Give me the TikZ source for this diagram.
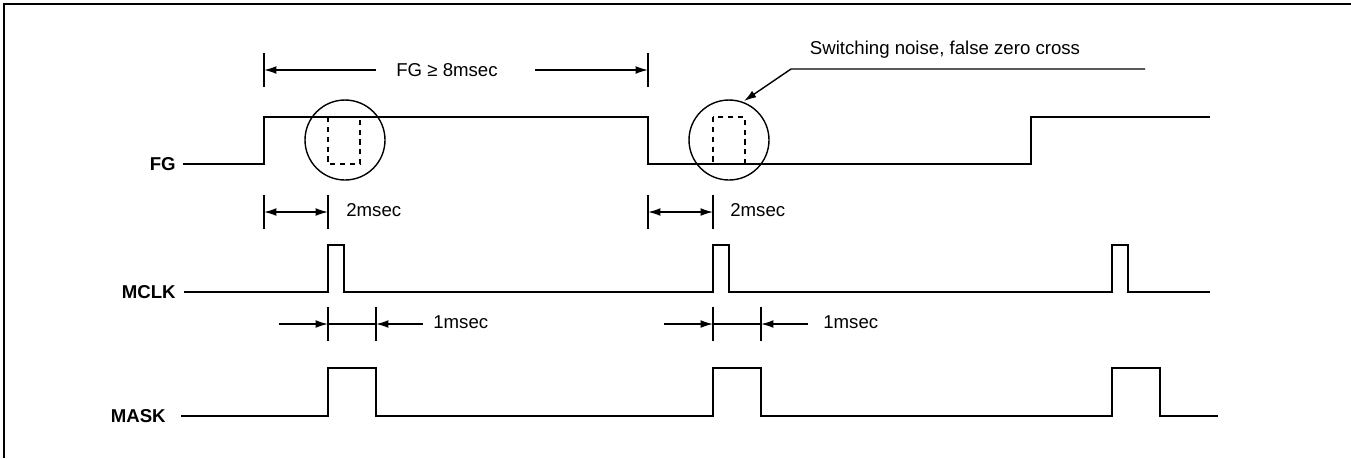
\documentclass[tikz,border=0pt]{standalone}
\usepackage{fontspec}
\setmainfont{Liberation Sans}
\usetikzlibrary{arrows.meta}
\begin{document}
\begin{tikzpicture}[x=0.02cm,y=-0.02cm]
\tikzstyle{every node}+=[inner sep=0pt]
\tikzstyle{signal}=[line width=1.1pt]
\tikzstyle{dimline}=[line width=0.8pt]
\tikzstyle{dimtip}=[-{Latex[length=7pt,width=4.4pt]}]
\tikzstyle{lbl}=[font=\fontsize{10.6}{12}\selectfont]
\tikzstyle{sig}=[font=\fontsize{10.6}{12}\selectfont\bfseries,anchor=east]
\useasboundingbox (0,0) rectangle (1351,458);
% frame
\draw [line width=1pt] (4,458) -- (4,4) -- (1351,4);
% signal names
\node [sig] (fg) at (176,164) {FG};
\node [sig] (mclk) at (176,292) {MCLK};
\node [sig] (mask) at (166,416) {MASK};
% FG
\draw [signal] (fg.east) ++(7,0) -- (264,164) -- (264,117) -- (648,117) -- (648,164) -- (1031,164) -- (1031,117) -- (1210,117);
% MCLK
\draw [signal] (mclk.east) ++(8,0) -- (328,292) -- (328,245) -- (344,245) -- (344,292) -- (713,292) -- (713,245) -- (729,245) -- (729,292) -- (1112,292) -- (1112,245) -- (1128,245) -- (1128,292) -- (1210,292);
% MASK
\draw [signal] (mask.east) ++(15,0) -- (328,416) -- (328,368) -- (376,368) -- (376,416) -- (713,416) -- (713,368) -- (761,368) -- (761,416) -- (1112,416) -- (1112,368) -- (1160,368) -- (1160,416) -- (1218,416);
% noise circles
\draw [dimline] (345,140) circle (40);
\draw [dimline,dashed,dash pattern=on 3pt off 2.6pt] (328,117) rectangle (360,164);
\draw [dimline] (729,140) circle (40);
\draw [dimline,dashed,dash pattern=on 3pt off 2.6pt] (713,117) rectangle (745,164);
% FG period
\node [lbl] (fgper) at (447,70) {FG ≥ 8msec};
\draw [dimline] (264,53) -- (264,87);
\draw [dimline] (648,53) -- (648,87);
\draw [dimline,dimtip] (376,70) -- (264,70);
\draw [dimline,dimtip] (535,70) -- (648,70);
% noise note
\node [lbl] (noise) at (945,50) {Switching noise, false zero cross};
\draw [dimline,dimtip] (1145,69) -- (791,69) -- (744,101);
% 2msec
\foreach \a/\b in {264/328,648/713} {
  \draw [dimline] (\a,195) -- (\a,229);
  \draw [dimline] (\b,195) -- (\b,229);
  \draw [dimline,{Latex[length=7pt,width=4.4pt]}-{Latex[length=7pt,width=4.4pt]}] (\a,212) -- (\b,212);
}
\node [lbl,anchor=west] (two1) at (346,210) {2msec};
\node [lbl,anchor=west] (two2) at (730,210) {2msec};
% 1msec
\foreach \a/\b in {328/376,713/761} {
  \draw [dimline] (\a,307) -- (\a,341);
  \draw [dimline] (\b,307) -- (\b,341);
  \draw [dimline] (\a,324) -- (\b,324);
  \draw [dimline,dimtip] (\a-49,324) -- (\a,324);
  \draw [dimline,dimtip] (\b+47,324) -- (\b,324);
}
\node [lbl,anchor=west] (one1) at (433,322) {1msec};
\node [lbl,anchor=west] (one2) at (823,322) {1msec};
\end{tikzpicture}
\end{document}
